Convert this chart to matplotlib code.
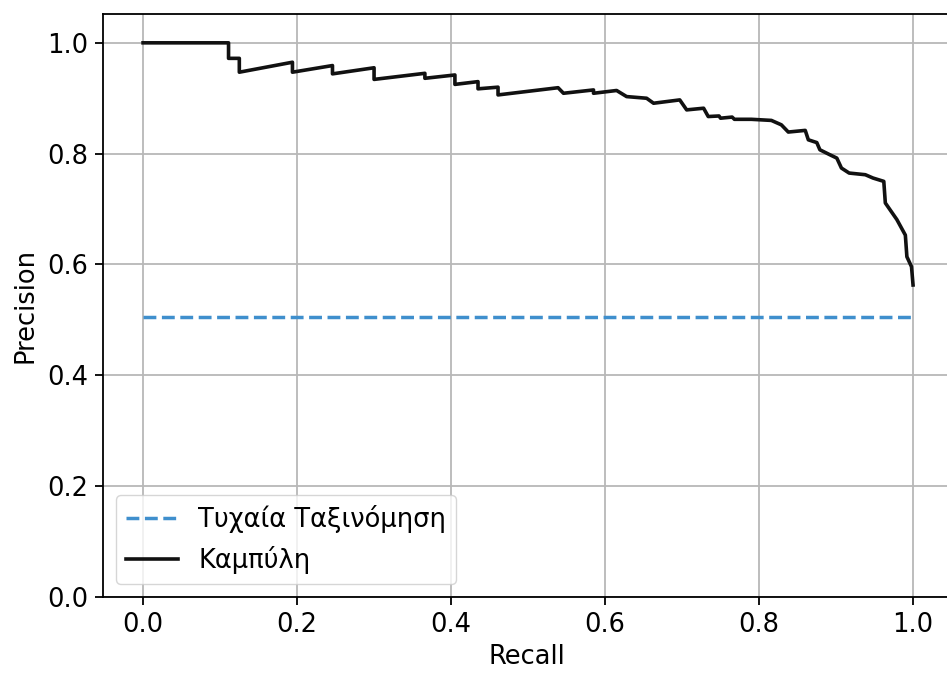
import matplotlib
matplotlib.use("Agg")
import matplotlib.pyplot as plt

# Precision-recall curve points (recall, precision)
recall = [0.0, 0.111, 0.111, 0.125, 0.125, 0.194, 0.194, 0.246, 0.246, 0.300,
          0.300, 0.366, 0.366, 0.405, 0.405, 0.435, 0.435, 0.461, 0.461, 0.539,
          0.546, 0.585, 0.585, 0.615, 0.628, 0.654, 0.663, 0.697, 0.706, 0.728,
          0.734, 0.748, 0.750, 0.765, 0.768, 0.790, 0.816, 0.829, 0.838, 0.860,
          0.864, 0.875, 0.879, 0.892, 0.901, 0.907, 0.917, 0.938, 0.948, 0.962,
          0.964, 0.979, 0.990, 0.992, 0.998, 1.0]
precision = [1.0, 1.0, 0.972, 0.972, 0.947, 0.965, 0.947, 0.959, 0.944, 0.955,
             0.934, 0.945, 0.936, 0.942, 0.925, 0.930, 0.917, 0.920, 0.906, 0.919,
             0.909, 0.915, 0.909, 0.914, 0.903, 0.900, 0.891, 0.897, 0.879, 0.882,
             0.867, 0.868, 0.864, 0.866, 0.862, 0.862, 0.860, 0.852, 0.839, 0.842,
             0.825, 0.820, 0.807, 0.798, 0.792, 0.774, 0.765, 0.762, 0.756, 0.750,
             0.711, 0.681, 0.653, 0.614, 0.596, 0.563]

# No-skill baseline
baseline_recall = [0.0, 1.0]
baseline_precision = [0.505, 0.505]

xticks = [0.0, 0.2, 0.4, 0.6, 0.8, 1.0]
yticks = [0.0, 0.2, 0.4, 0.6, 0.8, 1.0]

plt.rcParams.update({
    "font.family": ["DejaVu Sans"],
    "font.size": 18.5,
    "axes.linewidth": 1.3,
    "xtick.major.width": 1.3,
    "ytick.major.width": 1.3,
    "xtick.major.size": 5.8,
    "ytick.major.size": 5.8,
    "xtick.major.pad": 5,
    "ytick.major.pad": 5,
})

fig = plt.figure(figsize=(9.47, 6.77), dpi=100)
ax = fig.add_axes([0.1088, 0.1182, 0.8960, 0.8611])

ax.plot(baseline_recall, baseline_precision, linestyle="--", color="#3f8fcd",
        linewidth=2.5, label="Τυχαία Ταξινόμηση")
ax.plot(recall, precision, color="#111111", linewidth=2.6, label="Καμπύλη")

ax.set_xlim(-0.052, 1.05)
ax.set_ylim(0.0, 1.052)
ax.set_xticks(xticks)
ax.set_yticks(yticks)
ax.set_xticklabels([f"{t:.1f}" for t in xticks])
ax.set_yticklabels([f"{t:.1f}" for t in yticks])
ax.grid(True, color="#b8b8b8", linewidth=1.3)
ax.set_axisbelow(True)

ax.set_xlabel("Recall", labelpad=4)
ax.set_ylabel("Precision", labelpad=6)

ax.legend(loc="lower left", fontsize=18.5, handlelength=2.0)

fig.savefig("out.png", dpi=100)
